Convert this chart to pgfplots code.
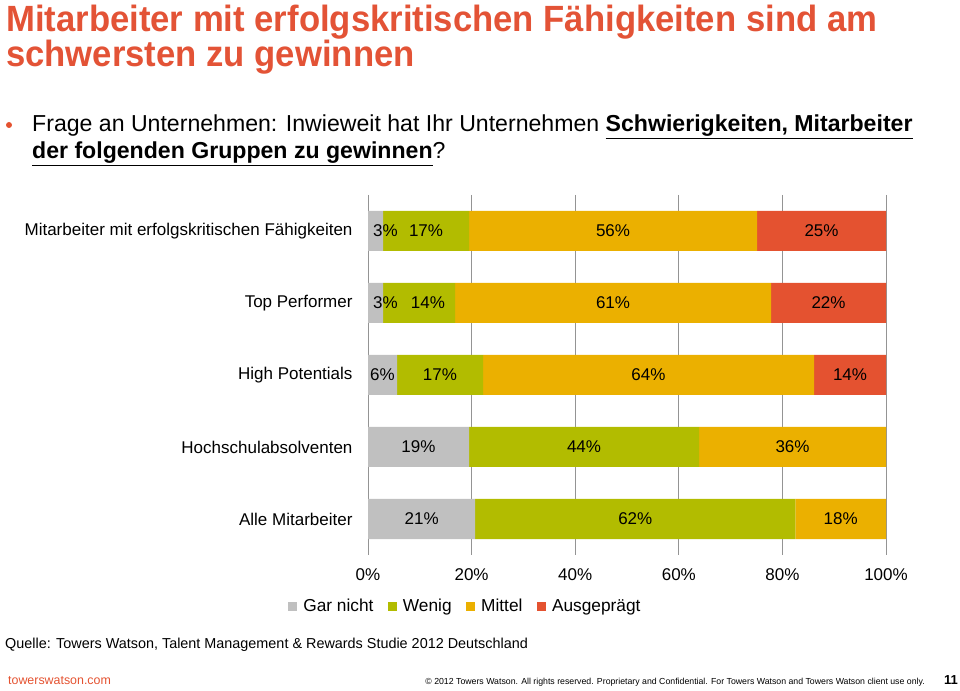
\documentclass[border=0pt]{standalone}
\usepackage{fontspec}
\setmainfont{Liberation Sans}
\newfontfamily\titlefont{Liberation Sans}[FakeStretch=0.95]
\usepackage{pgfplots}
\pgfplotsset{compat=1.18}
\definecolor{twred}{RGB}{228,82,48}
\definecolor{twgray}{RGB}{192,192,192}
\definecolor{twgreen}{RGB}{178,188,0}
\definecolor{tworange}{RGB}{235,176,0}
\definecolor{twtitle}{RGB}{227,83,54}
\begin{document}
\begin{tikzpicture}[x=1bp,y=1bp]
\useasboundingbox (0,0) rectangle (960,691);
\node[anchor=base west,inner sep=0,text=twtitle,font=\titlefont\bfseries\fontsize{36.5bp}{38bp}\selectfont] at (6,659) {Mitarbeiter mit erfolgskritischen Fähigkeiten sind am};
\node[anchor=base west,inner sep=0,text=twtitle,font=\titlefont\bfseries\fontsize{36.5bp}{38bp}\selectfont] at (6,624) {schwersten zu gewinnen};
\fill[twred] (9,566) circle (3);
\node[anchor=base west,inner sep=0,font=\fontsize{23.1bp}{29bp}\selectfont] at (32,559) {Frage an Unternehmen: Inwieweit hat Ihr Unternehmen \underline{\textbf{Schwierigkeiten, Mitarbeiter}}};
\node[anchor=base west,inner sep=0,font=\fontsize{23.1bp}{29bp}\selectfont] at (32,532) {\underline{\textbf{der folgenden Gruppen zu gewinnen}}?};
\begin{axis}[
  at={(368bp,136bp)}, anchor=south west,
  scale only axis, width=518bp, height=360bp,
  xbar stacked, bar width=40bp,
  xmin=0, xmax=100, ymin=-0.5, ymax=4.5, y dir=reverse,
  ytick={0,1,2,3,4},
  yticklabels={Mitarbeiter mit erfolgskritischen Fähigkeiten,Top Performer,High Potentials,Hochschulabsolventen,Alle Mitarbeiter},
  xtick={0,20,40,60,80,100},
  xticklabels={0\%,20\%,40\%,60\%,80\%,100\%},
  xmajorgrids, grid style={draw=black!42, line width=0.8bp},
  axis line style={draw=none},
  major tick length=0pt,
  tick label style={font=\fontsize{17bp}{20bp}\selectfont},
  yticklabel style={xshift=-12bp},
  xticklabel style={yshift=-10bp},
  visualization depends on=rawx \as \rawx,
  nodes near coords={\pgfplotspointmeta\%},
  point meta=explicit symbolic,
  every node near coord/.append style={anchor=center, font=\fontsize{17bp}{20bp}\selectfont, text=black},
  legend style={at={(-0.16,-0.142)}, anchor=west, draw=none, fill=none, legend columns=-1, font=\fontsize{17.3bp}{20bp}\selectfont, /tikz/every odd column/.append style={column sep=4bp}, /tikz/every even column/.append style={column sep=12.5bp}},
  legend image code/.code={\fill[#1,draw=none] (0bp,-4.5bp) rectangle (9bp,4.5bp);},
]
\addplot[fill=twgray, draw=none, every node near coord/.append style={xshift={ifthenelse(\rawx<4,10,0)}}] coordinates {(2.9,0)[3] (2.9,1)[3] (5.6,2)[6] (19.5,3)[19] (20.7,4)[21]};
\addplot[fill=twgreen, draw=none, every node near coord/.append style={xshift={ifthenelse(\rawx<15,9,0)}}] coordinates {(16.6,0)[17] (13.9,1)[14] (16.6,2)[17] (44.4,3)[44] (61.8,4)[62]};
\addplot[fill=tworange, draw=none] coordinates {(55.6,0)[56] (61.0,1)[61] (63.9,2)[64] (36.1,3)[36] (17.5,4)[18]};
\addplot[fill=twred, draw=none] coordinates {(24.9,0)[25] (22.2,1)[22] (13.9,2)[14]};
\legend{Gar nicht,Wenig,Mittel,Ausgeprägt}
\end{axis}
\node[anchor=base west,inner sep=0,font=\fontsize{14.4bp}{18bp}\selectfont] at (5,42) {Quelle: Towers Watson, Talent Management \& Rewards Studie 2012 Deutschland};
\node[anchor=base west,inner sep=0,text=twred,font=\fontsize{12.4bp}{16bp}\selectfont] at (8,6) {towerswatson.com};
\node[anchor=base east,inner sep=0,font=\fontsize{8.75bp}{12bp}\selectfont] at (925,6) {© 2012 Towers Watson. All rights reserved. Proprietary and Confidential. For Towers Watson and Towers Watson client use only.};
\node[anchor=base east,inner sep=0,font=\bfseries\fontsize{13bp}{16bp}\selectfont] at (958,6) {11};
\end{tikzpicture}
\end{document}
